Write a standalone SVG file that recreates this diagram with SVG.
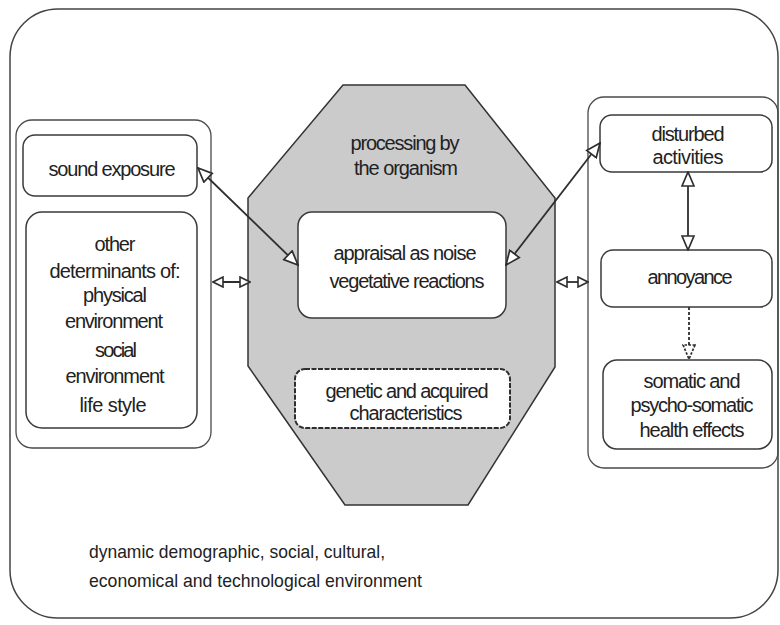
<svg xmlns="http://www.w3.org/2000/svg" width="780" height="625" viewBox="0 0 780 625">
<defs>
<style>
.box{fill:#ffffff;stroke:#3a3a3a;stroke-width:1.5}
.grp{fill:none;stroke:#4a4a4a;stroke-width:1.3}
.t{font-family:"Liberation Sans",Arial,sans-serif;font-size:20px;fill:#222;text-anchor:middle}
.tl{font-family:"Liberation Sans",Arial,sans-serif;font-size:19px;fill:#222}
.con{stroke:#2e2e2e;stroke-width:1.8;fill:none}
</style>
<marker id="ah" viewBox="0 0 16 14" refX="15" refY="7" markerWidth="16" markerHeight="14" markerUnits="userSpaceOnUse" orient="auto-start-reverse">
<path d="M1,1 L15,7 L1,13 Z" fill="#ffffff" stroke="#2e2e2e" stroke-width="1.7"/>
</marker>
<marker id="ahs" viewBox="0 0 12 12" refX="11" refY="6" markerWidth="12" markerHeight="12" markerUnits="userSpaceOnUse" orient="auto-start-reverse">
<path d="M1,1 L11,6 L1,11 Z" fill="#ffffff" stroke="#2e2e2e" stroke-width="1.6"/>
</marker>
<marker id="ahd" viewBox="0 0 16 14" refX="15" refY="7" markerWidth="16" markerHeight="14" markerUnits="userSpaceOnUse" orient="auto">
<path d="M1,1 L15,7 L1,13 Z" fill="#ffffff" stroke="#2e2e2e" stroke-width="1.7" stroke-dasharray="2.5 1.5"/>
</marker>
</defs>
<rect width="780" height="625" fill="#ffffff"/>

<g id="environment">
<rect x="10" y="9" width="768" height="609" rx="48" fill="none" stroke="#444" stroke-width="1.5"/>
<text class="tl" x="89" y="558" textLength="296" lengthAdjust="spacingAndGlyphs">dynamic demographic, social, cultural,</text>
<text class="tl" x="89" y="587" textLength="333" lengthAdjust="spacingAndGlyphs">economical and technological environment</text>
</g>

<g id="organism">
<polygon points="343,85 465,85 555,198 555,367 468,505 345,505 248,366 248,198" fill="#cbcbcb" stroke="#333" stroke-width="1.5"/>
<text class="t" x="405" y="150" textLength="109">processing by</text>
<text class="t" x="406" y="175" textLength="104">the organism</text>
</g>

<g id="appraisal">
<rect class="box" x="298" y="212" width="208" height="106" rx="14"/>
<text class="t" x="405" y="260" textLength="143">appraisal as noise</text>
<text class="t" x="407" y="288" textLength="155">vegetative reactions</text>
</g>

<g id="genetic">
<rect x="295" y="369" width="215" height="59" rx="10" fill="#ffffff" stroke="#2e2e2e" stroke-width="2" stroke-dasharray="5 1.5"/>
<text class="t" x="407" y="398" textLength="163">genetic and acquired</text>
<text class="t" x="406" y="420" textLength="113">characteristics</text>
</g>

<g id="left-group">
<rect class="grp" x="16" y="120" width="195" height="328" rx="16"/>
</g>

<g id="sound-exposure">
<rect class="box" x="23" y="135" width="174" height="61" rx="12"/>
<text class="t" x="112" y="176" textLength="127">sound exposure</text>
</g>

<g id="other-determinants">
<rect class="box" x="26" y="212" width="171" height="216" rx="16"/>
<text class="t" x="115" y="251" textLength="41">other</text>
<text class="t" x="115" y="278" textLength="131">determinants of:</text>
<text class="t" x="115" y="302" textLength="64">physical</text>
<text class="t" x="114" y="328" textLength="98">environment</text>
<text class="t" x="116" y="357" textLength="42">social</text>
<text class="t" x="115" y="383" textLength="99">environment</text>
<text class="t" x="113" y="412" textLength="67">life style</text>
</g>

<g id="right-group">
<rect class="grp" x="588" y="97" width="190" height="371" rx="16"/>
</g>

<g id="disturbed-activities">
<rect class="box" x="600" y="115" width="172" height="57" rx="12"/>
<text class="t" x="688" y="141" textLength="73">disturbed</text>
<text class="t" x="688" y="164" textLength="71">activities</text>
</g>

<g id="annoyance">
<rect class="box" x="601" y="250" width="171" height="57" rx="12"/>
<text class="t" x="690" y="284" textLength="85">annoyance</text>
</g>

<g id="health-effects">
<rect class="box" x="603" y="360" width="169" height="89" rx="14"/>
<text class="t" x="692" y="388" textLength="97">somatic and</text>
<text class="t" x="692" y="412" textLength="123">psycho-somatic</text>
<text class="t" x="692" y="437" textLength="105">health effects</text>
</g>

<g id="connectors">
<line class="con" x1="198" y1="168" x2="298" y2="265" marker-start="url(#ah)" marker-end="url(#ah)"/>
<line class="con" x1="506" y1="265" x2="600" y2="143" marker-start="url(#ah)" marker-end="url(#ah)"/>
<line class="con" x1="213" y1="282" x2="250" y2="282" marker-start="url(#ahs)" marker-end="url(#ahs)"/>
<line class="con" x1="557" y1="282" x2="588" y2="282" marker-start="url(#ahs)" marker-end="url(#ahs)"/>
<line class="con" x1="688" y1="172" x2="688" y2="250" marker-start="url(#ah)" marker-end="url(#ah)"/>
<line class="con" x1="689" y1="307" x2="689" y2="359" stroke-dasharray="3 2" marker-end="url(#ahd)"/>
</g>
</svg>
